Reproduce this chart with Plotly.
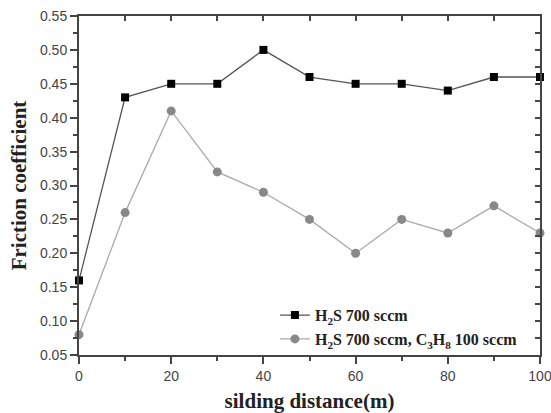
import plotly.graph_objects as go

distance = [0, 10, 20, 30, 40, 50, 60, 70, 80, 90, 100]
h2s = [0.16, 0.43, 0.45, 0.45, 0.50, 0.46, 0.45, 0.45, 0.44, 0.46, 0.46]
h2s_c3h8 = [0.08, 0.26, 0.41, 0.32, 0.29, 0.25, 0.20, 0.25, 0.23, 0.27, 0.23]

fig = go.Figure()
fig.add_trace(go.Scatter(
    x=distance, y=h2s, mode="lines+markers", name="<b>H<sub>2</sub>S 700 sccm</b>",
    line=dict(color="#555555", width=1.3),
    marker=dict(symbol="square", size=8, color="#000000"),
    cliponaxis=False))
fig.add_trace(go.Scatter(
    x=distance, y=h2s_c3h8, mode="lines+markers",
    name="<b>H<sub>2</sub>S 700 sccm, C<sub>3</sub>H<sub>8</sub> 100 sccm</b>",
    line=dict(color="#aaaaaa", width=1.3),
    marker=dict(symbol="circle", size=9, color="#888888"),
    cliponaxis=False))
# invisible trace for the inward top/right tick axes
fig.add_trace(go.Scatter(x=[None], y=[None], xaxis="x2", yaxis="y2",
                         showlegend=False, hoverinfo="skip"))

axis_font = dict(family="Liberation Sans, Arial", size=14, color="#444444")
title_font = dict(family="Liberation Serif, Times New Roman", size=21, color="#222222")

fig.update_layout(
    width=551, height=413,
    margin=dict(l=79, r=11, t=16, b=58),
    paper_bgcolor="white", plot_bgcolor="white",
    xaxis=dict(range=[0, 100], tickvals=[0, 20, 40, 60, 80, 100],
               ticks="outside", ticklen=7, tickwidth=1.5, tickcolor="#444",
               minor=dict(tickvals=[10, 30, 50, 70, 90], ticks="outside", ticklen=4,
                          tickcolor="#444", tickwidth=1.5),
               showline=True, linecolor="#444", linewidth=2, mirror=True,
               showgrid=False, zeroline=False, tickfont=axis_font, automargin=False,
               ticklabeloverflow="allow",
               title=dict(text="<b>silding distance(m)</b>", font=title_font, standoff=16)),
    yaxis=dict(range=[0.05, 0.55], dtick=0.05, tick0=0.05, tickformat=".2f",
               ticks="outside", ticklen=7, tickwidth=1.5, tickcolor="#444",
               minor=dict(dtick=0.025, tick0=0.05, ticks="outside", ticklen=4,
                          tickcolor="#444", tickwidth=1.5),
               showline=True, linecolor="#444", linewidth=2, mirror=True,
               showgrid=False, zeroline=False, tickfont=axis_font, automargin=False,
               ticklabeloverflow="allow",
               title=dict(text="<b>Friction coefficient</b>", font=title_font, standoff=8)),
    xaxis2=dict(overlaying="x", side="top", range=[0, 100],
                tickvals=[0, 10, 20, 30, 40, 50, 60, 70, 80, 90, 100],
                ticks="inside", ticklen=5, tickwidth=1.5, tickcolor="#444",
                showticklabels=False, showgrid=False, zeroline=False, showline=False,
                automargin=False),
    yaxis2=dict(overlaying="y", side="right", range=[0.05, 0.55],
                dtick=0.025, tick0=0.05,
                ticks="inside", ticklen=5, tickwidth=1.5, tickcolor="#444",
                showticklabels=False, showgrid=False, zeroline=False, showline=False,
                automargin=False),
    legend=dict(x=0.425, y=0.082, xanchor="left", yanchor="middle",
                bgcolor="rgba(0,0,0,0)",
                font=dict(family="Liberation Serif, Times New Roman", size=16, color="#222222"),
                tracegroupgap=0, itemwidth=30),
    showlegend=True,
)

fig.write_html("out.html")
